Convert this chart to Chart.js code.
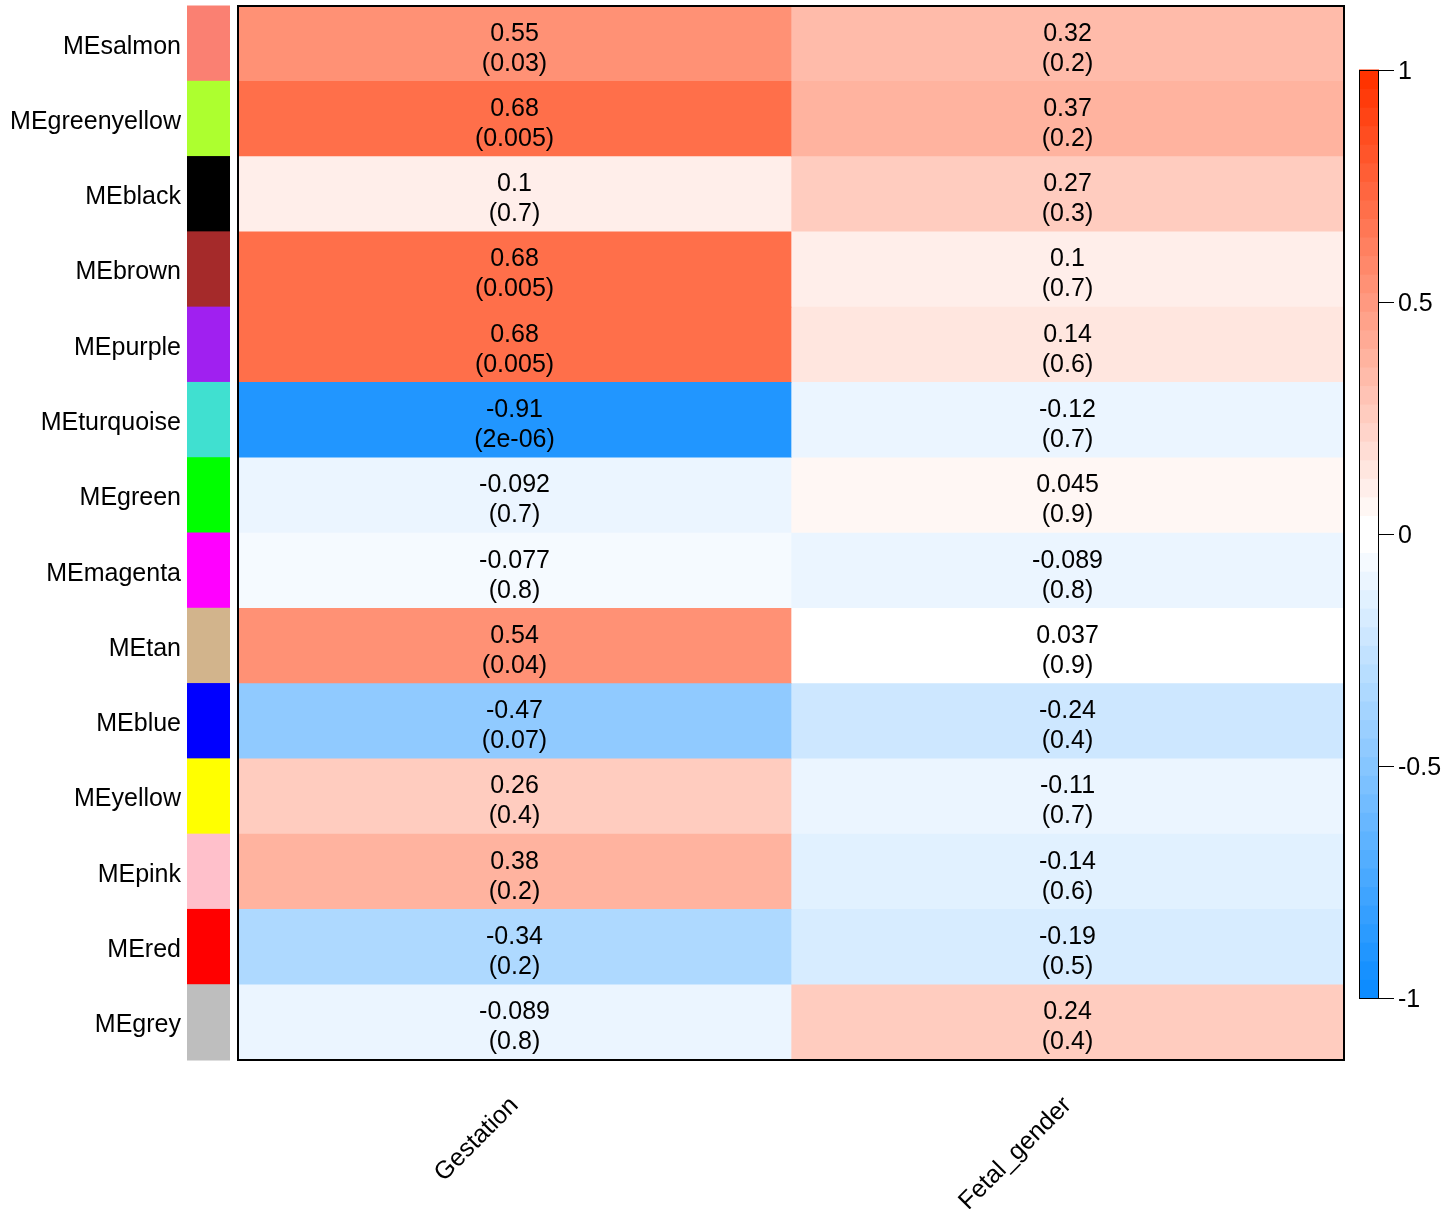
<!DOCTYPE html>
<html>
<head>
<meta charset="utf-8">
<script src="https://cdn.jsdelivr.net/npm/chart.js@4.4.1/dist/chart.umd.min.js"></script>
<style>
  html, body { margin: 0; padding: 0; background: #fff; }
  #wrap { width: 1455px; height: 1209px; }
</style>
</head>
<body>
<div id="wrap"><canvas id="js--heatmap"></canvas></div>
<script>
const modules = ["MEsalmon", "MEgreenyellow", "MEblack", "MEbrown", "MEpurple", "MEturquoise", "MEgreen",
    "MEmagenta", "MEtan", "MEblue", "MEyellow", "MEpink", "MEred", "MEgrey"];
const moduleColors = ["#FA8072", "#ADFF2F", "#000000", "#A52A2A", "#A020F0", "#40E0D0", "#00FF00",
    "#FF00FF", "#D2B48C", "#0000FF", "#FFFF00", "#FFC0CB", "#FF0000", "#BEBEBE"];
const traits = ["Gestation", "Fetal_gender"];

const corGestation = [0.55, 0.68, 0.1, 0.68, 0.68, -0.91, -0.092, -0.077, 0.54, -0.47, 0.26, 0.38, -0.34, -0.089];
const pGestation = ["0.03", "0.005", "0.7", "0.005", "0.005", "2e-06", "0.7", "0.8", "0.04", "0.07", "0.4", "0.2", "0.2", "0.8"];
const corFetal = [0.32, 0.37, 0.27, 0.1, 0.14, -0.12, 0.045, -0.089, 0.037, -0.24, -0.11, -0.14, -0.19, 0.24];
const pFetal = ["0.2", "0.2", "0.3", "0.7", "0.6", "0.7", "0.9", "0.8", "0.9", "0.4", "0.7", "0.6", "0.5", "0.4"];

const legendTicks = [1, 0.5, 0, -0.5, -1];

const FONT = '"Liberation Sans", Arial, sans-serif';

// same ramp as WGCNA blueWhiteRed(50)
function blueWhiteRed(n) {
    const blue = [0.05, 0.55, 1.0], red = [1.0, 0.2, 0.0], mid = [1, 1, 1];
    const half = n / 2;
    const cols = [];
    for (let i = 0; i < half; i++) {
        const f = i / (half - 1);
        cols.push(blue.map((b, c) => Math.round(255 * (b + (mid[c] - b) * f))));
    }
    for (let i = 0; i < half; i++) {
        const f = 1 - i / (half - 1);
        cols.push(red.map((r, c) => Math.round(255 * (r + (mid[c] - r) * f))));
    }
    return cols.map(c => 'rgb(' + c.join(',') + ')');
}
const palette = blueWhiteRed(50);

function colorFor(v) {
    let i = Math.floor((v + 1) / 2 * palette.length);
    return palette[Math.max(0, Math.min(palette.length - 1, i))];
}

// numbers in the cells, frame, module colour strip and colour key
const heatmapExtras = {
    id: 'heatmapExtras',
    afterDatasetsDraw(chart) {
        const ctx = chart.ctx;
        const a = chart.chartArea;
        const yScale = chart.scales.y;
        ctx.save();
        ctx.font = '25px ' + FONT;
        ctx.fillStyle = '#000';
        ctx.textAlign = 'center';
        ctx.textBaseline = 'middle';
        chart.data.datasets.forEach((ds, di) => {
            chart.getDatasetMeta(di).data.forEach((bar, i) => {
                const cx = (bar.x + bar.base) / 2;
                ctx.fillText(String(ds.cor[i]), cx, bar.y - 10);
                ctx.fillText('(' + ds.pval[i] + ')', cx, bar.y + 20);
            });
        });

        ctx.strokeStyle = '#000';
        ctx.lineWidth = 2;
        ctx.strokeRect(a.left, a.top, a.right - a.left, a.bottom - a.top);

        const rowH = (a.bottom - a.top) / modules.length;
        modules.forEach((m, i) => {
            const cy = yScale.getPixelForValue(i);
            ctx.fillStyle = moduleColors[i];
            ctx.fillRect(a.left - 51, cy - rowH / 2 - 0.5, 43, rowH + 1);
        });

        // colour key
        const kx = 1359, kw = 20, kTop = 70, kBot = 998;
        const keyY = v => kBot - (v + 1) / 2 * (kBot - kTop);
        const step = (kBot - kTop) / palette.length;
        palette.forEach((c, i) => {
            ctx.fillStyle = c;
            ctx.fillRect(kx, kBot - (i + 1) * step - 0.5, kw, step + 1);
        });
        ctx.lineWidth = 1;
        ctx.strokeStyle = '#000';
        ctx.strokeRect(kx + 0.5, kTop + 0.5, kw - 1, kBot - kTop);
        ctx.fillStyle = '#000';
        ctx.textAlign = 'left';
        legendTicks.forEach(t => {
            const ty = Math.round(keyY(t)) + 0.5;
            ctx.beginPath();
            ctx.moveTo(kx + kw, ty);
            ctx.lineTo(kx + kw + 15, ty);
            ctx.stroke();
            ctx.fillText(String(t), kx + kw + 19, ty + 2);
        });
        ctx.restore();
    }
};

const data = {
    labels: modules,
    datasets: [
        {
            label: traits[0],
            data: modules.map(() => [0, 1]),
            backgroundColor: corGestation.map(colorFor),
            cor: corGestation,
            pval: pGestation,
        },
        {
            label: traits[1],
            data: modules.map(() => [1, 2]),
            backgroundColor: corFetal.map(colorFor),
            cor: corFetal,
            pval: pFetal,
        }
    ]
};

const config = {
    type: 'bar',
    data: data,
    options: {
        indexAxis: 'y',
        responsive: true,
        maintainAspectRatio: false,
        animation: false,
        layout: { padding: { top: 6, right: 111, bottom: 0, left: 0 } },
        datasets: { bar: { grouped: false, barPercentage: 1, categoryPercentage: 1, borderWidth: 0 } },
        plugins: { legend: { display: false }, tooltip: { enabled: false } },
        scales: {
            x: {
                type: 'linear',
                min: 0,
                max: traits.length,
                grid: { display: false, drawTicks: false },
                border: { display: false },
                afterBuildTicks: s => { s.ticks = traits.map((t, i) => ({ value: i + 0.5 })); },
                afterFit: s => { s.height = 149; },
                ticks: {
                    autoSkip: false,
                    minRotation: 45,
                    maxRotation: 45,
                    padding: 31,
                    color: '#000',
                    font: { family: FONT, size: 25 },
                    callback: (v, i) => traits[i]
                }
            },
            y: {
                // invisible tick marks push the labels left of the colour strip
                grid: { display: true, drawOnChartArea: false, drawTicks: true, tickLength: 54, color: 'rgba(0,0,0,0)' },
                border: { display: false },
                afterFit: s => { s.width = 238; s.paddingTop = 0; s.paddingBottom = 0; },
                ticks: { padding: 3, labelOffset: 3, color: '#000', font: { family: FONT, size: 25 } }
            }
        }
    },
    plugins: [heatmapExtras]
};

new Chart(document.getElementById("js--heatmap"), config);
</script>
</body>
</html>
